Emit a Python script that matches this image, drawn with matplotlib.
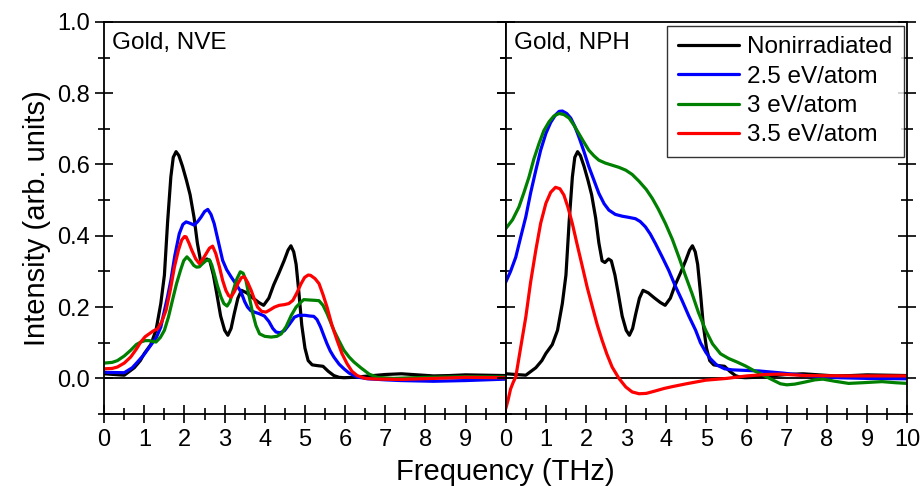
import matplotlib
matplotlib.use("Agg")
import matplotlib.pyplot as plt
from matplotlib.ticker import MultipleLocator, FormatStrFormatter

plt.rcParams['font.family'] = ['Liberation Sans', 'DejaVu Sans']

# nonirradiated spectrum (same curve in both ensembles)
x_ref = [0, 0.5, 0.75, 0.9, 1.0, 1.16, 1.29, 1.41, 1.5, 1.58, 1.66, 1.72, 1.79,
         1.86, 1.95, 2.05, 2.14, 2.24, 2.32, 2.40, 2.47, 2.56, 2.63, 2.72, 2.80,
         2.90, 3.0, 3.08, 3.16, 3.24, 3.33, 3.42, 3.55, 3.70, 3.85, 3.97, 4.10,
         4.22, 4.35, 4.48, 4.58, 4.65, 4.72, 4.78, 4.85, 4.92, 5.0, 5.08, 5.18,
         5.30, 5.45, 5.58, 5.72, 5.85, 5.97, 6.2, 6.5, 7.0, 7.4, 7.8, 8.2, 8.6,
         9.0, 9.5, 10]
y_ref = [0.013, 0.009, 0.03, 0.05, 0.07, 0.095, 0.135, 0.21, 0.29, 0.44, 0.565,
         0.62, 0.636, 0.625, 0.595, 0.555, 0.515, 0.45, 0.38, 0.33, 0.325, 0.335,
         0.33, 0.29, 0.24, 0.175, 0.135, 0.121, 0.14, 0.182, 0.225, 0.247, 0.24,
         0.226, 0.213, 0.205, 0.225, 0.262, 0.295, 0.33, 0.36, 0.372, 0.355,
         0.32, 0.24, 0.15, 0.085, 0.05, 0.038, 0.036, 0.034, 0.02, 0.008, 0.003,
         0.002, 0.003, 0.006, 0.011, 0.013, 0.01, 0.007, 0.008, 0.01, 0.009,
         0.008]

# NVE, 2.5 / 3 / 3.5 eV/atom
nve_x25 = [0, 0.5, 0.7, 0.83, 1.0, 1.16, 1.30, 1.41, 1.5, 1.58, 1.66, 1.76,
           1.87, 1.96, 2.04, 2.14, 2.24, 2.33, 2.41, 2.50, 2.58, 2.66, 2.74,
           2.84, 2.95, 3.05, 3.16, 3.28, 3.41, 3.5, 3.57, 3.65, 3.74, 3.85, 3.99,
           4.1, 4.2, 4.28, 4.38, 4.49, 4.6, 4.74, 4.85, 5.0, 5.12, 5.22, 5.3,
           5.39, 5.47, 5.55, 5.63, 5.72, 5.85, 5.97, 6.1, 6.3, 6.56, 7.0, 7.38,
           8.2, 9.0, 10]
nve_y25 = [0.017, 0.016, 0.03, 0.046, 0.068, 0.093, 0.115, 0.144, 0.19, 0.23,
           0.275, 0.345, 0.406, 0.432, 0.439, 0.435, 0.43, 0.44, 0.452, 0.468,
           0.474, 0.46, 0.434, 0.385, 0.331, 0.305, 0.285, 0.265, 0.242, 0.215,
           0.2, 0.19, 0.186, 0.182, 0.175, 0.16, 0.14, 0.13, 0.128, 0.134, 0.15,
           0.172, 0.177, 0.177, 0.175, 0.174, 0.165, 0.144, 0.12, 0.097, 0.077,
           0.06, 0.04, 0.027, 0.015, 0.004, -0.001, -0.004, -0.006, -0.008,
           -0.006, -0.002]
nve_x3 = [0, 0.2, 0.33, 0.5, 0.66, 0.8, 0.91, 1.02, 1.12, 1.2, 1.29, 1.4, 1.5,
          1.6, 1.70, 1.8, 1.9, 1.98, 2.06, 2.15, 2.23, 2.30, 2.37, 2.45, 2.53,
          2.62, 2.68, 2.74, 2.82, 2.91, 2.98, 3.06, 3.13, 3.2, 3.3, 3.39, 3.46,
          3.53, 3.61, 3.7, 3.78, 3.87, 4.0, 4.16, 4.3, 4.41, 4.53, 4.66, 4.78,
          4.9, 4.97, 5.1, 5.25, 5.35, 5.45, 5.55, 5.63, 5.72, 5.85, 5.97, 6.1,
          6.22, 6.39, 6.6, 6.8, 7.2, 8.0, 9.0, 10]
nve_y3 = [0.043, 0.045, 0.05, 0.063, 0.079, 0.095, 0.102, 0.106, 0.106, 0.104,
          0.102, 0.115, 0.135, 0.172, 0.219, 0.265, 0.303, 0.33, 0.341, 0.33,
          0.317, 0.312, 0.313, 0.322, 0.33, 0.333, 0.318, 0.294, 0.26, 0.228,
          0.21, 0.203, 0.215, 0.242, 0.278, 0.299, 0.295, 0.275, 0.23, 0.182,
          0.148, 0.125, 0.118, 0.116, 0.118, 0.125, 0.145, 0.177, 0.2, 0.214,
          0.221, 0.22, 0.219, 0.218, 0.205, 0.182, 0.16, 0.135, 0.105, 0.079,
          0.06, 0.046, 0.03, 0.012, 0.003, 0.0, 0.003, 0.005, 0.004]
nve_x35 = [0, 0.2, 0.33, 0.5, 0.66, 0.8, 0.91, 1.02, 1.12, 1.22, 1.33, 1.43,
           1.54, 1.65, 1.75, 1.85, 1.93, 2.0, 2.04, 2.11, 2.18, 2.28, 2.37, 2.46,
           2.54, 2.62, 2.70, 2.78, 2.87, 2.95, 3.03, 3.1, 3.16, 3.25, 3.33, 3.42,
           3.49, 3.57, 3.66, 3.74, 3.82, 3.92, 4.03, 4.14, 4.24, 4.36, 4.49, 4.6,
           4.70, 4.8, 4.9, 4.99, 5.08, 5.14, 5.25, 5.35, 5.45, 5.55, 5.67, 5.8,
           5.92, 6.05, 6.17, 6.3, 6.5, 6.8, 7.38, 8.2, 9.0, 10]
nve_y35 = [0.027, 0.028, 0.032, 0.043, 0.06, 0.082, 0.102, 0.117, 0.125, 0.133,
           0.139, 0.158, 0.191, 0.25, 0.313, 0.36, 0.388, 0.398, 0.397, 0.38,
           0.36, 0.335, 0.322, 0.335, 0.35, 0.365, 0.371, 0.35, 0.313, 0.275,
           0.247, 0.232, 0.228, 0.245, 0.266, 0.283, 0.285, 0.27, 0.247, 0.222,
           0.2, 0.188, 0.186, 0.193, 0.2, 0.205, 0.207, 0.21, 0.219, 0.24, 0.265,
           0.283, 0.29, 0.289, 0.28, 0.266, 0.235, 0.2, 0.15, 0.107, 0.07, 0.041,
           0.02, 0.008, 0.0, -0.002, -0.003, 0.0, 0.003, 0.002]

# NPH, 2.5 / 3 / 3.5 eV/atom
nph_x25 = [0, 0.12, 0.25, 0.37, 0.5, 0.62, 0.75, 0.87, 1.0, 1.12, 1.24, 1.33,
           1.41, 1.52, 1.62, 1.72, 1.82, 1.95, 2.07, 2.2, 2.32, 2.45, 2.57, 2.73,
           2.90, 3.05, 3.23, 3.35, 3.48, 3.6, 3.73, 3.9, 4.06, 4.22, 4.39, 4.56,
           4.73, 4.85, 4.98, 5.1, 5.25, 5.45, 5.64, 6.3, 6.9, 7.46, 8.29, 9.0, 10]
nph_y25 = [0.27, 0.3, 0.34, 0.395, 0.453, 0.52, 0.584, 0.64, 0.687, 0.718, 0.739,
           0.749, 0.75, 0.743, 0.73, 0.707, 0.678, 0.636, 0.594, 0.555, 0.519,
           0.49, 0.472, 0.46, 0.455, 0.452, 0.448, 0.44, 0.425, 0.405, 0.378,
           0.34, 0.303, 0.26, 0.219, 0.175, 0.135, 0.1, 0.074, 0.055, 0.038,
           0.027, 0.024, 0.021, 0.015, 0.008, 0.002, 0.0, -0.001]
nph_x3 = [0, 0.17, 0.33, 0.45, 0.58, 0.7, 0.83, 0.95, 1.08, 1.2, 1.33, 1.45, 1.58,
          1.7, 1.82, 1.95, 2.07, 2.2, 2.32, 2.48, 2.65, 2.82, 2.99, 3.15, 3.32,
          3.5, 3.65, 3.8, 3.98, 4.15, 4.31, 4.47, 4.64, 4.8, 4.98, 5.15, 5.35,
          5.55, 5.76, 5.97, 6.18, 6.4, 6.59, 6.84, 7.0, 7.2, 7.46, 7.7, 7.9, 8.2,
          8.54, 8.9, 9.37, 9.7, 10]
nph_y3 = [0.42, 0.445, 0.481, 0.52, 0.565, 0.615, 0.659, 0.695, 0.72, 0.736,
          0.743, 0.74, 0.73, 0.71, 0.687, 0.662, 0.64, 0.624, 0.612, 0.604,
          0.598, 0.592, 0.584, 0.572, 0.553, 0.53, 0.505, 0.475, 0.434, 0.39,
          0.341, 0.29, 0.238, 0.185, 0.135, 0.097, 0.069, 0.056, 0.046, 0.035,
          0.022, 0.01, -0.001, -0.015, -0.018, -0.016, -0.01, -0.004, -0.002,
          -0.008, -0.014, -0.012, -0.009, -0.012, -0.014]
nph_x35 = [0, 0.06, 0.12, 0.19, 0.25, 0.37, 0.5, 0.62, 0.75, 0.87, 1.0, 1.12,
           1.24, 1.35, 1.45, 1.55, 1.66, 1.78, 1.91, 2.03, 2.16, 2.28, 2.4, 2.52,
           2.65, 2.82, 2.99, 3.15, 3.32, 3.5, 3.73, 3.95, 4.15, 4.5, 4.98, 5.5,
           6.0, 6.47, 6.84, 7.46, 8.5, 10]
nph_y35 = [-0.085, -0.06, -0.03, -0.01, 0.004, 0.085, 0.172, 0.27, 0.36, 0.435,
           0.491, 0.522, 0.536, 0.532, 0.514, 0.48, 0.434, 0.375, 0.313, 0.255,
           0.2, 0.15, 0.107, 0.068, 0.032, 0.0, -0.024, -0.038, -0.043, -0.042,
           -0.035, -0.028, -0.023, -0.015, -0.005, 0.0, 0.007, 0.011, 0.012,
           0.008, 0.007, 0.007]

labels = ['Nonirradiated', '2.5 eV/atom', '3 eV/atom', '3.5 eV/atom']
colors = ['black', '#0000ff', '#008000', '#ff0000']

fig, (ax1, ax2) = plt.subplots(1, 2, sharey=True, figsize=(9.22, 4.86), dpi=100)
fig.subplots_adjust(left=0.113, right=0.984, bottom=0.148, top=0.955, wspace=0)

panels = [
    (ax1, [(x_ref, y_ref), (nve_x25, nve_y25), (nve_x3, nve_y3), (nve_x35, nve_y35)], 'Gold, NVE'),
    (ax2, [(x_ref, y_ref), (nph_x25, nph_y25), (nph_x3, nph_y3), (nph_x35, nph_y35)], 'Gold, NPH'),
]
for ax, series, title in panels:
    ax.axhline(0, color='black', lw=1.3, zorder=1)
    for (xs, ys), c, lab in zip(series, colors, labels):
        ax.plot(xs, ys, color=c, lw=2.3, label=lab, solid_joinstyle='round',
                solid_capstyle='round', zorder=2)
    ax.text(0.02, 0.975, title, transform=ax.transAxes, fontsize=17.5, va='top', ha='left')
    ax.set_xlim(0, 10)
    ax.xaxis.set_major_locator(MultipleLocator(1))
    ax.xaxis.set_minor_locator(MultipleLocator(0.5))
    ax.yaxis.set_major_locator(MultipleLocator(0.2))
    ax.yaxis.set_minor_locator(MultipleLocator(0.1))
    ax.tick_params(which='both', direction='inout', width=1.2, labelsize=17, pad=4)
    ax.tick_params(which='major', length=13)
    ax.tick_params(which='minor', length=8)
    for sp in ax.spines.values():
        sp.set_linewidth(1.3)

ax1.set_ylim(-0.1, 1.0)
ax1.set_xticks(range(0, 10))
ax1.set_xticklabels([str(i) for i in range(0, 10)])
ax1.tick_params(axis='y', which='both', right=True)
ax2.tick_params(axis='y', which='both', left=True, right=True, labelleft=False)
ax1.yaxis.set_major_formatter(FormatStrFormatter('%.1f'))

ax1.set_ylabel('Intensity (arb. units)', fontsize=21, labelpad=4)
fig.supxlabel('Frequency (THz)', fontsize=21, x=0.548, y=0.0)

leg = ax2.legend(loc='upper right', fontsize=17.5, frameon=True, fancybox=False,
                 edgecolor='black', handlelength=2.5, handletextpad=0.35,
                 labelspacing=0.3, borderaxespad=0.15, borderpad=0.45)
leg.get_frame().set_linewidth(1.0)

fig.savefig('out.png', dpi=100)
